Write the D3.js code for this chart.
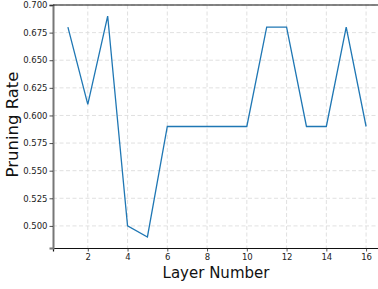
<!DOCTYPE html>
<html><head><meta charset="utf-8">
<script src="https://cdn.jsdelivr.net/npm/d3@7"></script>
<style>body{margin:0;background:#fff}svg{display:block}text{font-family:"DejaVu Sans",sans-serif}</style>
</head><body>
<svg id="c" width="378" height="289"></svg>
<script>
const layers = [1,2,3,4,5,6,7,8,9,10,11,12,13,14,15,16];
const pruningRate = [0.68,0.61,0.69,0.50,0.49,0.59,0.59,0.59,0.59,0.59,0.68,0.68,0.59,0.59,0.68,0.59];
const xTicks = [2,4,6,8,10,12,14,16];
const yTicks = [0.500,0.525,0.550,0.575,0.600,0.625,0.650,0.675,0.700];

const svg = d3.select("#c");
const L=53, R=381, T=5, B=248;
const x = d3.scaleLinear().domain([0.25,16.75]).range([L,R]);
const y = d3.scaleLinear().domain([0.48,0.70]).range([B,T]);

// grid
svg.append("g").selectAll("line").data(xTicks).join("line")
  .attr("x1",d=>x(d)).attr("x2",d=>x(d)).attr("y1",T).attr("y2",B)
  .attr("stroke","#dcdcdc").attr("stroke-width",0.9).attr("stroke-dasharray","4,2.5");
svg.append("g").selectAll("line").data(yTicks).join("line")
  .attr("x1",L).attr("x2",R).attr("y1",d=>y(d)).attr("y2",d=>y(d))
  .attr("stroke","#dcdcdc").attr("stroke-width",0.9).attr("stroke-dasharray","4,2.5");

// line
svg.append("path").datum(layers.map((l,i)=>[l,pruningRate[i]]))
  .attr("fill","none").attr("stroke","#1f77b4").attr("stroke-width",1.3)
  .attr("d", d3.line().x(d=>x(d[0])).y(d=>y(d[1])));

// axes
const xa = svg.append("g").attr("transform",`translate(0,${B})`)
  .call(d3.axisBottom(x).tickValues(xTicks).tickSize(3.5).tickPadding(2).tickFormat(d3.format("d")));
const ya = svg.append("g").attr("transform",`translate(${L},0)`)
  .call(d3.axisLeft(y).tickValues(yTicks).tickSize(3.5).tickPadding(2).tickFormat(d3.format(".3f")));
[xa,ya].forEach(a=>{a.selectAll("text").attr("font-size","8.5px").attr("fill","#222").attr("font-family","DejaVu Sans");
  a.selectAll(".tick line").attr("stroke","#222").attr("stroke-width",0.8);});
xa.select(".domain").attr("stroke","#111").attr("stroke-width",1.2);
ya.select(".domain").attr("stroke","#777").attr("stroke-width",2);
svg.append("line").attr("x1",L).attr("x2",R).attr("y1",T).attr("y2",T).attr("stroke","#111").attr("stroke-width",1.2);

svg.append("text").attr("x",(L+R)/2-1).attr("y",278).attr("text-anchor","middle")
  .attr("font-size","15px").attr("fill","#111").text("Layer Number");
svg.append("text").attr("transform",`translate(18,${(T+B)/2-2}) rotate(-90)`).attr("text-anchor","middle")
  .attr("font-size","16.5px").attr("fill","#111").text("Pruning Rate");
</script>
</body></html>
